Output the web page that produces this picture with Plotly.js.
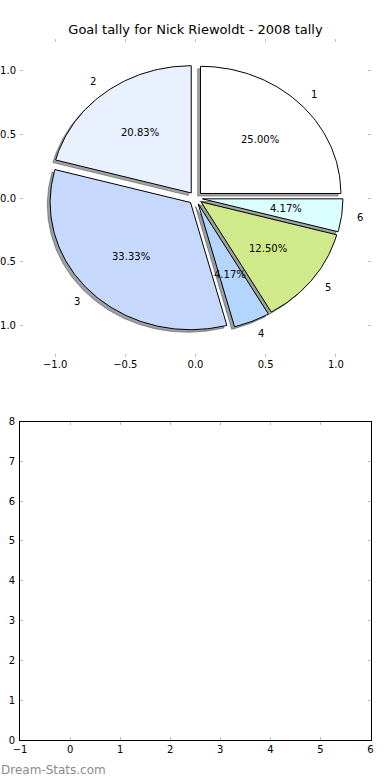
<!DOCTYPE html>
<html>
<head>
<meta charset="utf-8">
<script src="https://cdn.plot.ly/plotly-3.0.1.min.js"></script>
<style>
  html, body { margin: 0; padding: 0; background: #ffffff; }
  #chart { width: 390px; height: 780px; }
</style>
</head>
<body>
<div id="chart"></div>
<script>
// ---- data ----
const chartTitle = 'Goal tally for Nick Riewoldt - 2008 tally';
const sliceLabels = ['1', '2', '3', '4', '5', '6'];
const goals = [6, 5, 8, 1, 3, 1];
const sliceColors = ['#ffffff', '#e9f0fe', '#c6d9fd', '#b4d5fe', '#d0ea8b', '#dbffff'];
const pieTickVals = [-1, -0.5, 0, 0.5, 1];
const pieTickText = ['\u22121.0', '\u22120.5', '0.0', '0.5', '1.0'];
const lowerXTicks = [-1, 0, 1, 2, 3, 4, 5, 6];
const lowerXText = ['\u22121', '0', '1', '2', '3', '4', '5', '6'];
const lowerYTicks = [0, 1, 2, 3, 4, 5, 6, 7, 8];
const watermark = 'Dream-Stats.com';

// ---- style constants ----
const EXPLODE = 0.05;
const SHADOW_DX = -0.02, SHADOW_DY = -0.02;
const FONT = 'DejaVu Sans, Verdana, sans-serif';

function hexToRgb(h) {
  const n = parseInt(h.slice(1), 16);
  return [(n >> 16) & 255, (n >> 8) & 255, n & 255];
}

const total = goals.reduce((a, b) => a + b, 0);
const shadowTraces = [];
const wedgeTraces = [];
const annotations = [];
let frac0 = 0;
goals.forEach((v, i) => {
  const frac = v / total;
  const t1 = frac0 * 360, t2 = (frac0 + frac) * 360;
  frac0 += frac;
  const mid = (t1 + t2) / 2 * Math.PI / 180;
  const cx = EXPLODE * Math.cos(mid), cy = EXPLODE * Math.sin(mid);
  const n = Math.max(4, Math.ceil(t2 - t1));
  const xs = [cx], ys = [cy];
  for (let k = 0; k <= n; k++) {
    const a = (t1 + (t2 - t1) * k / n) * Math.PI / 180;
    xs.push(cx + Math.cos(a));
    ys.push(cy + Math.sin(a));
  }
  xs.push(cx); ys.push(cy);
  const rgb = hexToRgb(sliceColors[i]);
  const sc = 'rgba(' + rgb.map(c => Math.round(c * 0.3)).join(',') + ',0.5)';
  shadowTraces.push({
    type: 'scatter', mode: 'lines', xaxis: 'x', yaxis: 'y',
    x: xs.map(x => x + SHADOW_DX), y: ys.map(y => y + SHADOW_DY),
    fill: 'toself', fillcolor: sc, line: {color: sc, width: 1},
    hoverinfo: 'skip', showlegend: false
  });
  wedgeTraces.push({
    type: 'scatter', mode: 'lines', xaxis: 'x', yaxis: 'y',
    x: xs, y: ys, fill: 'toself', fillcolor: sliceColors[i],
    line: {color: '#000000', width: 1},
    hoverinfo: 'skip', showlegend: false
  });
  const lx = cx + 1.1 * Math.cos(mid), ly = cy + 1.1 * Math.sin(mid);
  annotations.push({
    xref: 'x', yref: 'y', x: lx, y: ly, text: sliceLabels[i], showarrow: false,
    xanchor: lx > 0 ? 'left' : 'right', yanchor: 'middle',
    font: {family: FONT, size: 10, color: '#000000'}, borderpad: 0
  });
  annotations.push({
    xref: 'x', yref: 'y', x: cx + 0.6 * Math.cos(mid), y: cy + 0.6 * Math.sin(mid),
    text: (frac * 100).toFixed(2) + '%', showarrow: false,
    xanchor: 'center', yanchor: 'middle',
    font: {family: FONT, size: 10, color: '#000000'}, borderpad: 0
  });
});

annotations.push({
  xref: 'paper', yref: 'paper', x: 0, y: 1 - 770 / 780, text: watermark,
  showarrow: false, xanchor: 'left', yanchor: 'middle',
  font: {family: FONT, size: 12, color: '#8c8c8c'}, borderpad: 0
});

const emptyTrace = {type: 'scatter', mode: 'markers', x: [], y: [], xaxis: 'x2', yaxis: 'y2',
  hoverinfo: 'skip', showlegend: false};

const tickFont = {family: FONT, size: 10, color: '#000000'};
const common = {
  showgrid: false, zeroline: false, ticks: 'inside', ticklen: 3, tickwidth: 1,
  tickcolor: '#bdbdbd', tickfont: tickFont, fixedrange: true
};

const layout = {
  width: 390, height: 780,
  margin: {l: 0, r: 0, t: 0, b: 0},
  paper_bgcolor: '#ffffff', plot_bgcolor: 'rgba(0,0,0,0)',
  font: {family: FONT, color: '#000000'},
  title: {text: chartTitle, x: 195.5 / 390, xanchor: 'center', y: 1 - 29.5 / 780, yanchor: 'middle',
    font: {family: FONT, size: 13, color: '#000000'}},
  xaxis: Object.assign({}, common, {domain: [20 / 390, 371 / 390], anchor: 'y', range: [-1.25, 1.25],
    tickmode: 'array', tickvals: pieTickVals, ticktext: pieTickText, showline: false, mirror: 'allticks'}),
  yaxis: Object.assign({}, common, {domain: [1 - 357 / 780, 1 - 39 / 780], anchor: 'x', range: [-1.25, 1.25],
    tickmode: 'array', tickvals: pieTickVals, ticktext: pieTickText, showline: false, mirror: 'allticks',
    ticklabelstandoff: 3}),
  xaxis2: Object.assign({}, common, {domain: [20 / 390, 370.5 / 390], anchor: 'y2', range: [-1, 6],
    tickmode: 'array', tickvals: lowerXTicks, ticktext: lowerXText,
    showline: true, linecolor: '#000000', linewidth: 1, mirror: 'allticks'}),
  yaxis2: Object.assign({}, common, {domain: [1 - 740 / 780, 1 - 421.5 / 780], anchor: 'x2', range: [0, 8],
    tickmode: 'array', tickvals: lowerYTicks,
    showline: true, linecolor: '#000000', linewidth: 1, mirror: 'allticks',
    ticklabelstandoff: 2}),
  annotations: annotations
};

Plotly.newPlot('chart', shadowTraces.concat(wedgeTraces, [emptyTrace]), layout,
  {displayModeBar: false, staticPlot: true});
</script>
</body>
</html>
